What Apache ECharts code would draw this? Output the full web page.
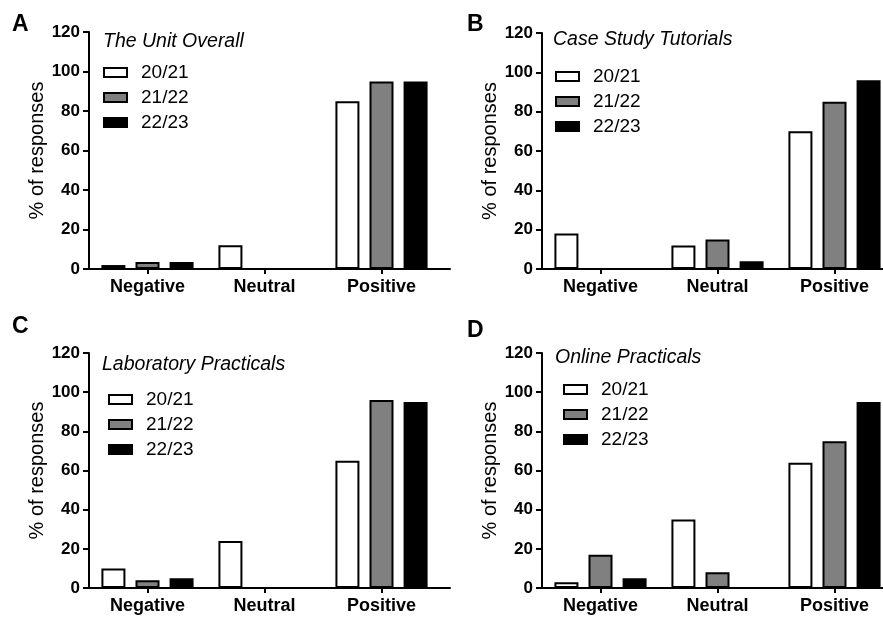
<!DOCTYPE html>
<html>
<head>
<meta charset="utf-8">
<script src="https://cdn.jsdelivr.net/npm/echarts@6/dist/echarts.min.js"></script>
<style>
html,body{margin:0;padding:0;background:#fff;overflow:hidden;width:883px;height:617px;}
#chart{width:900px;height:617px;}
</style>
</head>
<body>
<div id="chart"></div>
<script>
// ---- data ----
var categories = ['Negative', 'Neutral', 'Positive'];
var seasons = ['20/21', '21/22', '22/23'];
var yTicks = [0, 20, 40, 60, 80, 100, 120];
var panelLetters = ['A', 'B', 'C', 'D'];
var panelTitles = ['The Unit Overall', 'Case Study Tutorials', 'Laboratory Practicals', 'Online Practicals'];
var yAxisTitle = '% of responses';

var unitOverall2021 = [2, 12, 85];
var unitOverall2122 = [3.5, 0, 95];
var unitOverall2223 = [3.5, 0, 95];

var caseStudy2021 = [18, 12, 70];
var caseStudy2122 = [0, 15, 85];
var caseStudy2223 = [0, 4, 96];

var labPracticals2021 = [10, 24, 65];
var labPracticals2122 = [4, 0, 96];
var labPracticals2223 = [5, 0, 95];

var onlinePracticals2021 = [3, 35, 64];
var onlinePracticals2122 = [17, 8, 75];
var onlinePracticals2223 = [5, 0, 95];

var panelData = [
  [unitOverall2021, unitOverall2122, unitOverall2223],
  [caseStudy2021, caseStudy2122, caseStudy2223],
  [labPracticals2021, labPracticals2122, labPracticals2223],
  [onlinePracticals2021, onlinePracticals2122, onlinePracticals2223]
];

// ---- layout / style ----
var FONT = '"Liberation Sans", Arial, Helvetica, sans-serif';
var fills = ['#ffffff', '#808080', '#000000'];
var grids = [
  {left: 89, top: 32, width: 351, height: 237},
  {left: 542, top: 33, width: 351, height: 236},
  {left: 89, top: 353, width: 351, height: 235},
  {left: 542, top: 353, width: 351, height: 235}
];
// axis-line frames (the x axis line runs a little past the last category)
var lineFrames = [
  {left: 89, top: 32, width: 361, height: 237},
  {left: 542, top: 33, width: 351, height: 236},
  {left: 89, top: 353, width: 361, height: 235},
  {left: 542, top: 353, width: 351, height: 235}
];
var letterPos = [{left: 12, top: 13}, {left: 467, top: 13}, {left: 12, top: 315}, {left: 467, top: 319}];
var subtitlePos = [{left: 103, top: 32}, {left: 553, top: 30}, {left: 102, top: 355}, {left: 555, top: 348}];
var legendPos = [{left: 103, top: 63}, {left: 555, top: 67}, {left: 108, top: 390}, {left: 563, top: 380}];

var option = {
  backgroundColor: '#ffffff',
  animation: false,
  textStyle: {fontFamily: FONT},
  title: [],
  legend: [],
  grid: [],
  xAxis: [],
  yAxis: [],
  series: []
};

for (var p = 0; p < 4; p++) {
  option.title.push({
    text: panelLetters[p], left: letterPos[p].left, top: letterPos[p].top, padding: 0,
    textStyle: {fontFamily: FONT, fontSize: 23, fontWeight: 'bold', color: '#000'}
  });
  option.title.push({
    text: panelTitles[p], left: subtitlePos[p].left, top: subtitlePos[p].top, padding: 0,
    textStyle: {fontFamily: FONT, fontSize: 19.5, fontStyle: 'italic', fontWeight: 'normal', color: '#000'}
  });
  option.legend.push({
    data: seasons.slice(), orient: 'vertical', left: legendPos[p].left, top: legendPos[p].top,
    padding: 0, itemWidth: 23, itemHeight: 9, itemGap: 6, selectedMode: false,
    icon: 'rect',
    textStyle: {fontFamily: FONT, fontSize: 19, color: '#000', lineHeight: 19, padding: [0, 0, 0, 9]}
  });
  option.grid.push(grids[p]);
  option.xAxis.push({
    type: 'category', gridIndex: p, data: categories.slice(),
    axisLine: {show: true, lineStyle: {color: '#000', width: 2}},
    axisTick: {show: true, alignWithLabel: true, length: 5, lineStyle: {color: '#000', width: 2}},
    axisLabel: {margin: 9, fontFamily: FONT, fontSize: 18, fontWeight: 'bold', color: '#000'},
    splitLine: {show: false}
  });
  option.yAxis.push({
    type: 'value', gridIndex: p, min: yTicks[0], max: yTicks[yTicks.length - 1],
    interval: yTicks[1] - yTicks[0],
    name: yAxisTitle, nameLocation: 'middle', nameGap: 37, nameRotate: 90,
    nameTextStyle: {fontFamily: FONT, fontSize: 20, color: '#000'},
    axisLine: {show: true, lineStyle: {color: '#000', width: 2}},
    axisTick: {show: true, length: 6, lineStyle: {color: '#000', width: 2}},
    axisLabel: {margin: 9, fontFamily: FONT, fontSize: 17, fontWeight: 'bold', color: '#000'},
    splitLine: {show: false}
  });
  for (var s = 0; s < 3; s++) {
    option.series.push({
      type: 'bar', name: seasons[s], xAxisIndex: p, yAxisIndex: p,
      data: panelData[p][s],
      barWidth: 24, barGap: '42%',
      itemStyle: {color: fills[s], borderColor: '#000', borderWidth: 2},
      emphasis: {disabled: true}
    });
  }
}

// extra frames carrying only the full-length x axis line
for (var q = 0; q < 4; q++) {
  option.grid.push(lineFrames[q]);
  option.xAxis.push({
    type: 'value', gridIndex: 4 + q, min: 0, max: 1,
    axisLine: {show: true, onZero: false, lineStyle: {color: '#000', width: 2}},
    axisTick: {show: false}, axisLabel: {show: false}, splitLine: {show: false}
  });
  option.yAxis.push({
    type: 'value', gridIndex: 4 + q, min: 0, max: 1, show: false
  });
}

var chart = echarts.init(document.getElementById('chart'), null, {renderer: 'canvas'});
chart.setOption(option);
</script>
</body>
</html>
